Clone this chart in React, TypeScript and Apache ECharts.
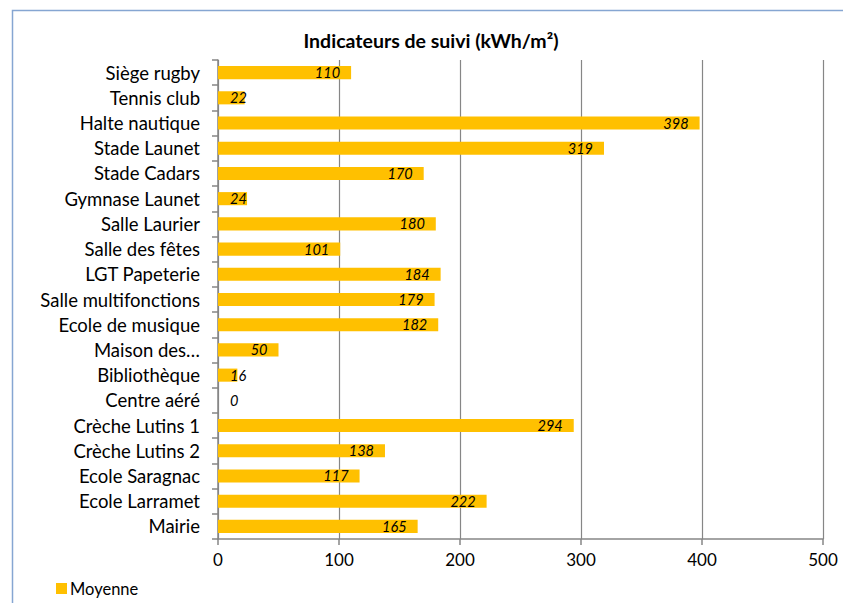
import React, { useEffect, useRef } from "react";
import * as echarts from "echarts";

const categories = [
  "Siège rugby",
  "Tennis club",
  "Halte nautique",
  "Stade Launet",
  "Stade Cadars",
  "Gymnase Launet",
  "Salle Laurier",
  "Salle des fêtes",
  "LGT Papeterie",
  "Salle multifonctions",
  "Ecole de musique",
  "Maison des…",
  "Bibliothèque",
  "Centre aéré",
  "Crèche Lutins 1",
  "Crèche Lutins 2",
  "Ecole Saragnac",
  "Ecole Larramet",
  "Mairie",
];
const moyenne = [110, 22, 398, 319, 170, 24, 180, 101, 184, 179, 182, 50, 16, 0, 294, 138, 117, 222, 165];
const seriesName = "Moyenne";
const titleText = "Indicateurs de suivi (kWh/m²)";
const xMin = 0;
const xMax = 500;
const xInterval = 100;

const FONT = "Lato, 'Open Sans', sans-serif";

export default function App() {
  const ref = useRef<HTMLDivElement>(null);
  useEffect(() => {
    if (!ref.current) return;
    const chart = echarts.init(ref.current, null, { renderer: "svg" });
    const data = moyenne.map((v) => ({
      value: v,
      label:
        v < 40
          ? { position: "insideLeft" as const, distance: 12 }
          : { position: "insideRight" as const, distance: 11 },
    }));
    chart.setOption({
      animation: false,
      backgroundColor: "#ffffff",
      textStyle: { fontFamily: FONT },
      grid: { left: 218, right: 20, top: 60, bottom: 64, containLabel: false },
      legend: {
        show: true,
        left: 51,
        bottom: 1,
        itemWidth: 11,
        itemHeight: 11,
        itemGap: 4,
        icon: "rect",
        textStyle: { fontFamily: FONT, fontSize: 16.5, color: "#000", padding: [0, 0, 0, -2] },
        data: [seriesName],
      },
      graphic: [
        {
          type: "rect",
          shape: { x: 12.5, y: 10.5, width: 1000, height: 1000 },
          style: { fill: "none", stroke: "#86a6d2", lineWidth: 1.5 },
          silent: true,
          z: 0,
        },
        {
          type: "text",
          x: 431,
          y: 40,
          style: {
            text: titleText,
            fontFamily: FONT,
            fontSize: 19.5,
            fontWeight: "bold",
            fill: "#000",
            textAlign: "center",
            textVerticalAlign: "middle",
          },
        },
      ],
      xAxis: {
        type: "value",
        min: xMin,
        max: xMax,
        interval: xInterval,
        axisLine: { show: true, lineStyle: { color: "#868686", width: 1.5 } },
        axisTick: { show: true, length: 6, lineStyle: { color: "#868686", width: 1.5 } },
        splitLine: { show: true, lineStyle: { color: "#868686", width: 1.2 } },
        axisLabel: { fontFamily: FONT, fontSize: 17, color: "#000", margin: 12 },
      },
      yAxis: {
        type: "category",
        data: categories,
        inverse: true,
        axisLine: { show: true, lineStyle: { color: "#868686", width: 1.5 } },
        axisTick: { show: true, length: 6, alignWithLabel: false, lineStyle: { color: "#868686", width: 1.5 } },
        axisLabel: { fontFamily: FONT, fontSize: 18.5, color: "#000", margin: 18 },
      },
      series: [
        {
          name: seriesName,
          type: "bar",
          data,
          barWidth: "52%",
          itemStyle: { color: "#FFC000" },
          label: {
            show: true,
            fontFamily: FONT,
            fontSize: 14.5,
            fontStyle: "italic",
            color: "#000",
          },
        },
      ],
    });
    return () => chart.dispose();
  }, []);
  return (
    <div
      ref={ref}
      style={{ position: "fixed", left: 0, top: 0, width: 843, height: 603 }}
    />
  );
}
